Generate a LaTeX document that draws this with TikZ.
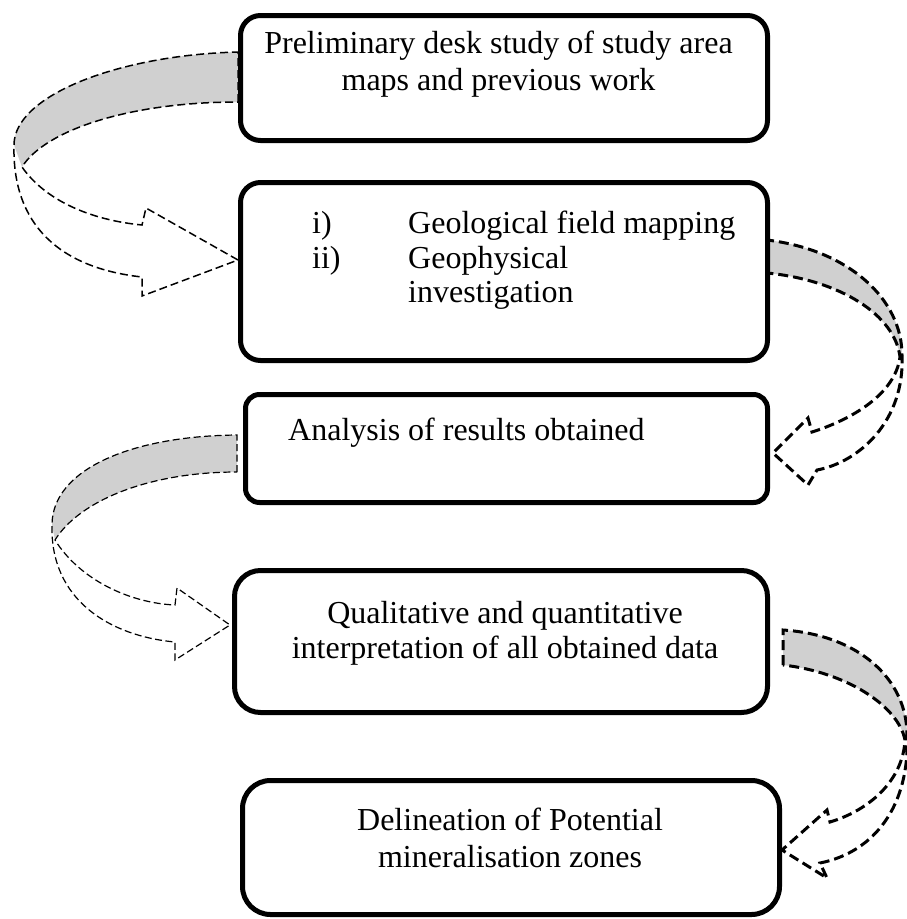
\documentclass[tikz,border=0pt]{standalone}
\usepackage{fontspec}
\setmainfont{Liberation Serif}
\definecolor{bandgray}{RGB}{208,208,208}
\begin{document}
\begin{tikzpicture}[x=1pt,y=-1pt,
  box/.style={draw=black, line width=5pt, rounded corners=20pt, inner sep=0pt},
  lbl/.style={inner sep=0pt, font=\fontsize{32}{37}\selectfont},
  leftarr/.style={line width=1.5pt, dash pattern=on 8pt off 4pt, line join=miter},
  rightarr/.style={line width=3pt, dash pattern=on 10pt off 5pt, line join=miter},
  band/.style={fill=bandgray}]
\useasboundingbox (0,0) rectangle (907,919);

% ---- curved block arrows (drawn first, below the boxes)
% arrow 1 : box 1 -> box 2 (left side)
\fill[band] (238,52) .. controls (120,55) and (14,95) .. (14,145) -- (22,167)
  .. controls (45,130) and (130,102) .. (238,102) -- cycle;
\draw[leftarr] (238,102) -- (238,52) .. controls (120,55) and (14,95) .. (14,145)
  .. controls (12,225) and (60,268) .. (142,277) -- (142,296) -- (238,260) -- (146,208) -- (142,225)
  .. controls (90,220) and (45,200) .. (22,167) .. controls (45,130) and (130,102) .. (238,102);

% arrow 2 : box 2 -> box 3 (right side)
\fill[band] (767,240) .. controls (850,250) and (902,300) .. (902,355) -- (900,357)
  .. controls (895,315) and (840,280) .. (767,273) -- cycle;
\draw[rightarr] (767,273) -- (767,240) .. controls (850,250) and (902,300) .. (902,355)
  .. controls (905,420) and (860,462) .. (817,470) -- (808,485) -- (773,453) -- (808,418) -- (812,432)
  .. controls (850,420) and (895,395) .. (900,357) .. controls (895,315) and (840,280) .. (767,273);

% arrow 3 : box 3 -> box 4 (left side)
\fill[band] (237,435) .. controls (130,436) and (52,470) .. (52,525) -- (55,540)
  .. controls (80,500) and (150,472) .. (237,472) -- cycle;
\draw[leftarr, line width=1.2pt, dash pattern=on 7pt off 3.5pt] (237,472) -- (237,435) .. controls (130,436) and (52,470) .. (52,525)
  .. controls (50,600) and (110,636) .. (175,642) -- (175,660) -- (230,625) -- (177,588) -- (175,605)
  .. controls (130,603) and (80,580) .. (55,540) .. controls (80,500) and (150,472) .. (237,472);

% arrow 4 : box 4 -> box 5 (right side)
\fill[band] (783,630) .. controls (860,635) and (907,680) .. (907,735) -- (905,740)
  .. controls (898,705) and (845,672) .. (783,665) -- cycle;
\draw[rightarr] (783,665) -- (783,630) .. controls (860,635) and (907,680) .. (907,735)
  .. controls (910,805) and (875,852) .. (820,863) -- (827,878) -- (782,850) -- (827,810) -- (830,822)
  .. controls (870,810) and (903,780) .. (905,740) .. controls (898,705) and (845,672) .. (783,665);

% ---- boxes
\node[box, minimum width=527pt, minimum height=125pt] (b1) at (504,78) {};
\node[box, minimum width=527pt, minimum height=178pt] (b2) at (504,271.5) {};
\node[box, rounded corners=14pt, minimum width=522pt, minimum height=108pt] (b3) at (506.5,448.5) {};
\node[box, rounded corners=26pt, minimum width=533pt, minimum height=142pt] (b4) at (501,641.5) {};
\node[box, rounded corners=28pt, minimum width=537pt, minimum height=134pt] (b5) at (511,847.5) {};

% ---- texts
\node[lbl, anchor=base] (t1a) at (498.5,53) {Preliminary desk study of study area};
\node[lbl, anchor=base] (t1b) at (498.5,90) {maps and previous work};

\node[lbl, anchor=base west] (t2ia) at (312,233) {i)};
\node[lbl, anchor=base west] (t2ib) at (408,233) {Geological field mapping};
\node[lbl, anchor=base west] (t2iia) at (312,268) {ii)};
\node[lbl, anchor=base west] (t2iib) at (408,268) {Geophysical};
\node[lbl, anchor=base west] (t2iic) at (408,302) {investigation};

\node[lbl, anchor=base west] (t3) at (288,440) {Analysis of results obtained};

\node[lbl, anchor=base] (t4a) at (505,623) {Qualitative and quantitative};
\node[lbl, anchor=base] (t4b) at (505,658) {interpretation of all obtained data};

\node[lbl, anchor=base] (t5a) at (510,830) {Delineation of Potential};
\node[lbl, anchor=base] (t5b) at (510,867) {mineralisation zones};
\end{tikzpicture}
\end{document}
